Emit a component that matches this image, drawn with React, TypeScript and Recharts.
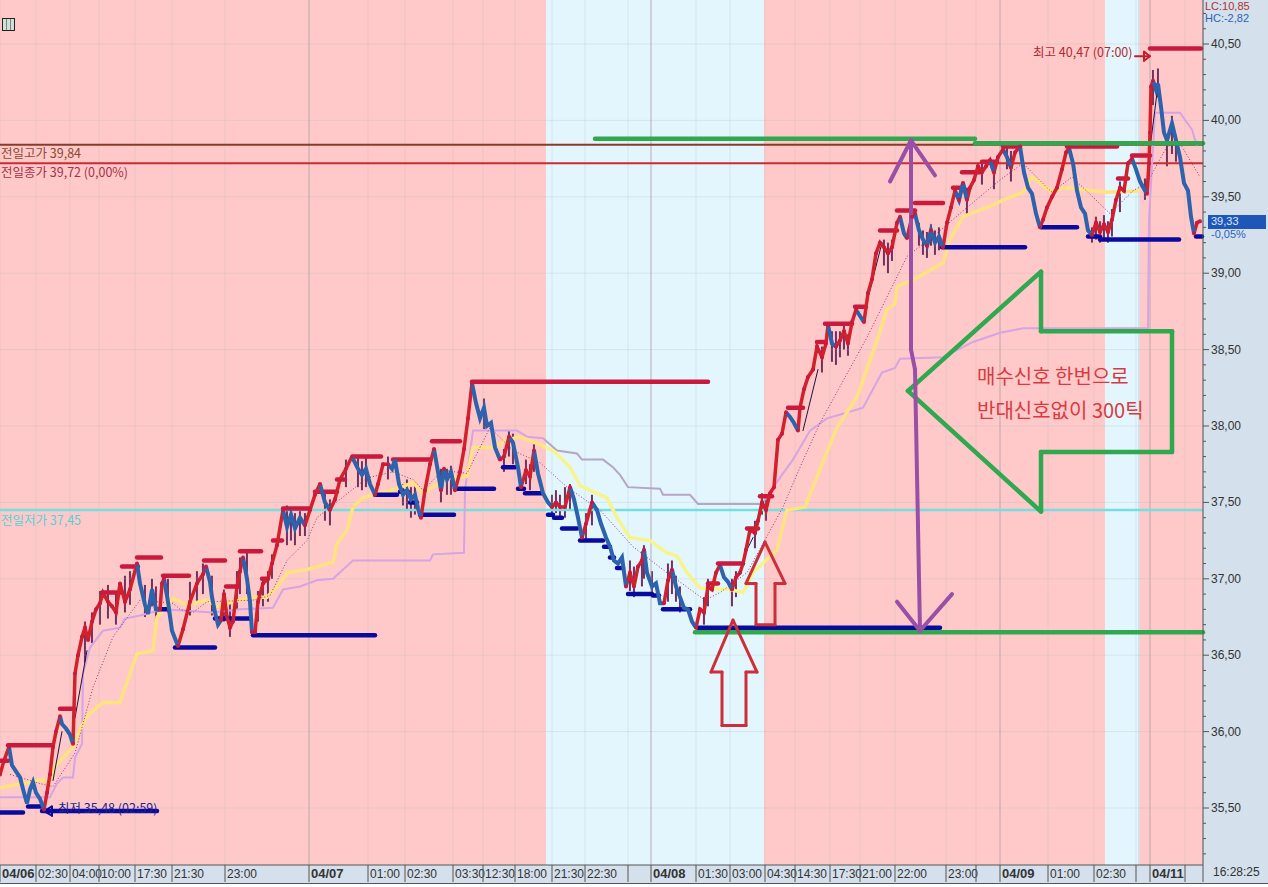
import {
  ComposedChart,
  Line,
  Bar,
  XAxis,
  YAxis,
  ReferenceArea,
  ReferenceLine,
} from 'recharts'

const KR_FONT = '"Noto Sans CJK KR", "Liberation Sans", sans-serif'
const NUM_FONT = '"Liberation Sans", "Noto Sans CJK KR", sans-serif'

const barX = [
  0, 4, 9, 12, 16, 20, 24, 27, 30, 33,
  36, 40, 44, 47, 50, 53, 56, 60, 62, 66,
  70, 73, 75, 78, 82, 85, 88, 92, 96, 100,
  103, 108, 112, 116, 120, 125, 130, 137, 140, 145,
  148, 152, 156, 160, 162, 164, 168, 172, 178, 183,
  190, 197, 203, 206, 210, 212, 215, 218, 221, 224,
  227, 230, 233, 237, 240, 243, 247, 250, 252, 255,
  258, 263, 268, 272, 277, 283, 287, 291, 295, 300,
  305, 310, 315, 320, 325, 330, 335, 340, 346, 352,
  358, 362, 366, 370, 375, 378, 383, 388, 392, 395,
  399, 403, 407, 411, 415, 418, 421, 425, 430, 434,
  438, 441, 444, 447, 451, 455, 460, 464, 468, 472,
  476, 480, 484, 487, 491, 495, 500, 504, 509, 513,
  518, 521, 526, 530, 534, 538, 543, 548, 552, 556,
  560, 565, 570, 574, 578, 582, 586, 592, 597, 601,
  606, 610, 614, 618, 622, 626, 630, 634, 638, 642,
  644, 647, 652, 656, 660, 664, 668, 672, 676, 680,
  684, 688, 692, 696, 700, 704, 708, 712, 716, 720,
  724, 728, 732, 736, 740, 743, 746, 750, 755, 758,
  762, 766, 770, 774, 778, 782, 786, 790, 794, 798,
  800, 804, 808, 813, 817, 822, 826, 828, 832, 836,
  840, 844, 848, 852, 856, 860, 864, 868, 872, 876,
  880, 884, 888, 892, 897, 900, 904, 907, 912, 915,
  919, 923, 927, 931, 935, 939, 943, 947, 951, 955,
  959, 963, 967, 970, 974, 978, 982, 986, 990, 994,
  998, 1003, 1007, 1011, 1015, 1020, 1024, 1028, 1032, 1036,
  1040, 1043, 1047, 1052, 1057, 1062, 1066, 1069, 1073, 1077,
  1081, 1085, 1088, 1092, 1096, 1100, 1104, 1108, 1112, 1116,
  1120, 1124, 1128, 1132, 1136, 1140, 1145, 1147, 1149, 1150,
  1151, 1153, 1156, 1158, 1161, 1164, 1167, 1172, 1176, 1180,
  1184, 1188, 1191, 1194, 1197, 1200,
]

const closes = [
  35.72, 35.81, 35.9, 35.78, 35.74, 35.7, 35.6, 35.53, 35.62, 35.67,
  35.6, 35.56, 35.49, 35.6, 35.72, 35.9, 36.0, 36.1, 36.05, 36.02,
  35.98, 35.92, 36.38, 36.5, 36.62, 36.68, 36.6, 36.72, 36.8, 36.84,
  36.91, 36.85, 36.82, 36.78, 36.97, 36.85, 36.93, 37.1, 36.97, 36.83,
  36.77, 36.93, 36.8, 36.8, 36.97, 37.0, 36.85, 36.66, 36.56, 36.67,
  36.85, 36.97, 37.03, 37.08, 36.98, 36.88, 36.78, 36.7, 36.73, 36.9,
  36.75, 36.68, 36.72, 36.95, 37.05, 37.14, 37.0, 36.85, 36.65, 36.65,
  36.85, 36.97, 37.0, 37.1, 37.22, 37.45, 37.34, 37.42, 37.33, 37.4,
  37.35, 37.45, 37.55, 37.62, 37.5, 37.45, 37.52, 37.65, 37.72, 37.8,
  37.72, 37.68, 37.72, 37.62, 37.55, 37.62, 37.75, 37.75, 37.72, 37.78,
  37.62, 37.55, 37.58, 37.52, 37.55, 37.46, 37.4, 37.58, 37.75, 37.85,
  37.7, 37.58, 37.72, 37.65, 37.7, 37.58, 37.7, 37.85, 38.05, 38.28,
  38.15, 38.05, 38.12, 38.0, 38.02, 37.86, 37.78, 37.8, 37.93, 37.89,
  37.73, 37.6, 37.71, 37.67, 37.84, 37.69, 37.56, 37.5, 37.47, 37.5,
  37.47, 37.47, 37.6, 37.52, 37.4, 37.27, 37.36, 37.5, 37.45, 37.36,
  37.27, 37.21, 37.12, 37.1, 37.14, 36.95, 37.04, 36.95, 37.08, 37.12,
  37.19, 37.04, 36.95, 36.97, 36.84, 36.84, 36.99, 37.06, 36.95, 36.88,
  36.81, 36.8, 36.72, 36.68, 36.8, 36.78, 36.95, 36.93, 37.04, 37.09,
  37.01, 36.98, 36.93, 37.01, 37.04, 37.1, 37.19, 37.32, 37.3, 37.38,
  37.5, 37.45, 37.56, 37.6, 37.91, 37.95, 38.09, 38.06, 38.02, 37.97,
  38.12, 38.24, 38.32, 38.37, 38.52, 38.45, 38.54, 38.66, 38.54, 38.52,
  38.56, 38.62, 38.54, 38.68, 38.76, 38.72, 38.68, 38.87, 38.96, 39.13,
  39.2, 39.17, 39.13, 39.17, 39.33, 39.37, 39.26, 39.23, 39.37, 39.39,
  39.28, 39.22, 39.18, 39.28, 39.2, 39.24, 39.17, 39.33, 39.43, 39.54,
  39.48, 39.59, 39.48, 39.56, 39.61, 39.7, 39.66, 39.7, 39.74, 39.66,
  39.76, 39.81, 39.76, 39.69, 39.79, 39.83, 39.66, 39.56, 39.52, 39.39,
  39.3, 39.35, 39.43, 39.5, 39.56, 39.68, 39.79, 39.82, 39.72, 39.54,
  39.43, 39.39, 39.28, 39.25, 39.33, 39.27, 39.32, 39.27, 39.35, 39.48,
  39.56, 39.54, 39.72, 39.75, 39.68, 39.6, 39.54, 39.52, 39.72, 39.92,
  40.22, 40.26, 40.2, 40.24, 40.09, 39.92, 39.87, 39.98, 39.87, 39.76,
  39.59, 39.54, 39.37, 39.26, 39.33, 39.34,
]

// bars where the colour flips, first leg is rising
const legBreaks = [
  0, 9, 44, 60, 73, 137, 160, 164, 178, 206, 221, 243, 252, 283, 305, 320, 330, 352, 375, 388,
  421, 434, 441, 444, 455, 472, 500, 509, 521, 534, 552, 570, 582, 592, 626, 644, 664, 672, 696,
  720, 732, 786, 798, 828, 836, 856, 864, 900, 907, 915, 927, 931, 943, 955, 959, 963, 967, 990,
  994, 1003, 1011, 1020, 1040, 1069, 1092, 1132, 1147, 1153, 1194, 1200,
]

const wickX = [
  85, 92, 100, 108, 116, 125, 130, 145, 152, 156, 168, 190, 197, 203, 212, 224, 230, 237, 240, 247,
  258, 263, 268, 272, 287, 291, 295, 300, 305, 325, 330, 346, 358, 362, 366, 388, 403, 407, 411, 415,
  441, 447, 451, 484, 504, 509, 513, 526, 530, 534, 552, 556, 560, 565, 570, 586, 592, 630, 634, 642,
  644, 652, 668, 672, 676, 680, 704, 708, 732, 736, 755, 762, 766, 822, 832, 836, 840, 844, 848, 884,
  888, 892, 919, 923, 927, 931, 935, 939, 967, 982, 994, 1007, 1011, 1092, 1096, 1100, 1104, 1108, 1112, 1120,
  1145, 1153, 1158, 1167, 1172, 1176,
]
const wickLow = [
  36.45, 36.58, 36.7, 36.74, 36.7, 36.78, 36.83, 36.75, 36.82, 36.72, 36.78, 36.76, 36.85, 36.9, 36.76, 36.72, 36.62, 36.8, 36.9, 36.9,
  36.72, 36.82, 36.85, 37.0, 37.22, 37.25, 37.22, 37.28, 37.28, 37.38, 37.35, 37.6, 37.6, 37.58, 37.6, 37.65, 37.48, 37.45, 37.4, 37.42,
  37.5, 37.55, 37.55, 37.98, 37.7, 37.8, 37.75, 37.62, 37.58, 37.7, 37.42, 37.43, 37.4, 37.4, 37.45, 37.25, 37.35, 36.92, 36.88, 36.95,
  37.0, 36.88, 36.85, 36.9, 36.85, 36.78, 36.7, 36.82, 36.82, 36.88, 37.2, 37.42, 37.38, 38.35, 38.42, 38.4, 38.45, 38.5, 38.46, 39.05,
  39.0, 39.08, 39.18, 39.12, 39.1, 39.18, 39.12, 39.15, 39.38, 39.58, 39.55, 39.68, 39.6, 39.2, 39.22, 39.2, 39.22, 39.2, 39.24, 39.4,
  39.48, 40.1, 40.15, 39.7, 39.78, 39.73,
]
const wickHigh = [
  36.72, 36.78, 36.92, 36.96, 36.92, 37.02, 37.05, 36.96, 37.0, 36.95, 37.0, 36.98, 37.05, 37.1, 37.02, 36.93, 36.85, 37.05, 37.14, 37.17,
  36.92, 37.0, 37.05, 37.16, 37.48, 37.47, 37.43, 37.45, 37.43, 37.58, 37.52, 37.78, 37.8, 37.77, 37.8, 37.8, 37.62, 37.65, 37.6, 37.62,
  37.72, 37.72, 37.74, 38.18, 37.85, 37.97, 37.95, 37.78, 37.75, 37.88, 37.55, 37.58, 37.55, 37.6, 37.62, 37.43, 37.55, 37.12, 37.08, 37.18,
  37.22, 37.05, 37.1, 37.12, 37.02, 36.95, 36.88, 37.0, 37.0, 37.05, 37.38, 37.56, 37.52, 38.52, 38.62, 38.62, 38.62, 38.68, 38.6, 39.22,
  39.2, 39.22, 39.33, 39.28, 39.27, 39.32, 39.28, 39.3, 39.56, 39.72, 39.72, 39.82, 39.8, 39.3, 39.37, 39.34, 39.38, 39.34, 39.42, 39.6,
  39.62, 40.33, 40.34, 39.9, 40.03, 39.9,
]

const maX = [
  10, 40, 53, 75, 93, 113, 140, 173, 180, 193, 207, 253, 270, 287, 307, 317, 367, 393, 413, 423, 443, 467,
  490, 513, 540, 567, 600, 633, 667, 705, 720, 747, 783, 800, 820, 867, 907, 933, 967, 1000, 1023, 1047,
  1052, 1072, 1110, 1133, 1147, 1167, 1180, 1200,
]
const maValues = [
  35.72, 35.66, 35.64, 35.86, 36.29, 36.62, 36.86, 36.84, 36.8, 36.78, 36.85, 36.86, 36.89, 37.12, 37.25, 37.4, 37.66, 37.7, 37.65, 37.58, 37.71, 37.69,
  37.99, 37.84, 37.76, 37.6, 37.45, 37.21, 37.04, 36.86, 36.91, 37.04, 37.47, 37.73, 38.02, 38.58, 39.11, 39.24, 39.43, 39.61, 39.72, 39.56,
  39.53, 39.63, 39.39, 39.54, 39.59, 39.83, 39.85, 39.63,
]

const yellowX = [
  0, 37, 50, 55, 73, 80, 88, 103, 120, 130, 137, 153, 157, 173, 187, 207, 217, 250, 267, 280, 287, 307, 333, 337,
  347, 353, 363, 373, 397, 413, 423, 447, 467, 473, 492, 507, 520, 540, 555, 570, 580, 607, 617, 630, 650, 667,
  677, 687, 700, 730, 743, 753, 777, 787, 805, 822, 837, 857, 877, 887, 895, 897, 917, 930, 943, 950, 963, 987,
  1000, 1023, 1032, 1050, 1067, 1093, 1107, 1140,
]
const yellowValues = [
  35.63, 35.68, 35.68, 35.77, 35.9, 36.01, 36.11, 36.19, 36.19, 36.38, 36.51, 36.53, 36.75, 36.87, 36.83, 36.86, 36.82, 36.88, 36.88, 36.97, 37.04, 37.06, 37.11, 37.23,
  37.32, 37.47, 37.53, 37.55, 37.59, 37.63, 37.56, 37.66, 37.67, 37.86, 37.86, 37.91, 37.93, 37.88, 37.83, 37.73, 37.61, 37.53, 37.4, 37.27, 37.25, 37.17,
  37.15, 37.04, 36.94, 36.93, 36.91, 37.04, 37.19, 37.45, 37.47, 37.75, 37.99, 38.19, 38.56, 38.76, 38.8, 38.91, 38.97, 39.02, 39.07, 39.22, 39.37, 39.43,
  39.47, 39.53, 39.63, 39.54, 39.56, 39.54, 39.53, 39.54,
]

const lavenderX = [
  0, 50, 57, 63, 73, 75, 82, 83, 90, 103, 120, 125, 140, 163, 213, 240, 273, 283, 300, 317, 333, 353, 430, 433,
  464, 465, 473, 517, 527, 543, 557, 577, 582, 603, 613, 620, 628, 660, 663, 690, 698, 762, 783, 793, 810, 827,
  843, 863, 873, 882, 895, 900, 943, 973, 1000, 1023, 1148, 1149, 1155, 1180, 1192, 1197,
]
const lavenderValues = [
  35.57, 35.57, 35.66, 35.7, 35.7, 35.83, 35.92, 36.38, 36.55, 36.66, 36.68, 36.74, 36.76, 36.8, 36.78, 36.8, 36.81, 36.93, 36.95, 36.99, 37.0, 37.12, 37.12, 37.16,
  37.17, 37.58, 37.97, 37.97, 37.93, 37.92, 37.84, 37.82, 37.78, 37.78, 37.73, 37.68, 37.6, 37.59, 37.55, 37.55, 37.49, 37.49, 37.69, 37.78, 37.97, 38.05,
  38.08, 38.12, 38.24, 38.35, 38.38, 38.44, 38.45, 38.55, 38.61, 38.64, 38.64, 39.35, 40.05, 40.05, 39.94, 39.83,
]

// from bar, to bar, price
const swingHighs = [
  [0, 8, 35.81], [8, 52, 35.91], [60, 74, 36.15], [102, 122, 36.91], [122, 138, 37.08], [137, 161, 37.14],
  [163, 189, 37.02], [204, 225, 37.12], [226, 238, 36.95], [240, 261, 37.18], [262, 268, 37.0], [273, 282, 37.25],
  [283, 310, 37.46], [315, 337, 37.57], [337, 345, 37.65], [353, 381, 37.8], [393, 430, 37.78], [432, 460, 37.9],
  [472, 708, 38.29], [708, 718, 36.97], [718, 743, 37.1], [747, 758, 37.33], [760, 772, 37.54], [788, 803, 38.12],
  [817, 825, 38.55], [825, 852, 38.67], [855, 866, 38.78], [880, 897, 39.28], [897, 915, 39.41], [915, 943, 39.46],
  [953, 962, 39.56], [962, 980, 39.66], [982, 997, 39.73], [1003, 1020, 39.83], [1067, 1117, 39.83], [1118, 1128, 39.62],
  [1132, 1150, 39.77], [1150, 1201, 40.47],
]
const swingLows = [
  [0, 23, 35.47], [28, 42, 35.51], [42, 157, 35.48], [157, 167, 36.8], [175, 215, 36.55], [215, 228, 36.74],
  [230, 250, 36.74], [253, 375, 36.63], [375, 397, 37.55], [400, 408, 37.57], [410, 417, 37.5], [420, 454, 37.42],
  [455, 494, 37.59], [503, 515, 37.73], [518, 524, 37.59], [525, 542, 37.56], [548, 553, 37.42], [554, 562, 37.4],
  [562, 577, 37.33], [580, 603, 37.25], [604, 610, 37.21], [610, 614, 37.14], [617, 623, 37.07], [628, 652, 36.9],
  [653, 659, 36.89], [663, 690, 36.8], [698, 940, 36.68], [942, 1025, 39.17], [1041, 1077, 39.3], [1088, 1100, 39.24],
  [1100, 1179, 39.22], [1196, 1202, 39.24],
]

// thin dark line that runs beside the steep rallies
const edgeStrokes = [
  [[53, 35.68], [62, 36.0]],
  [[75, 36.09], [87, 36.53]],
  [[747, 37.19], [753, 37.27]],
  [[803, 37.97], [818, 38.37]],
  [[868, 38.84], [882, 39.2]],
  [[1151, 39.87], [1157, 40.18]],
]

// hand drawn marks over the chart: runs of [bar, price]
const greenStrokes = [
  [[595, 39.88], [975, 39.88]],
  [[975, 39.85], [1203, 39.85]],
  [[695, 36.65], [1203, 36.65]],
  [[908, 38.23], [1041, 39.01], [1041, 38.62], [1172, 38.62], [1172, 37.83], [1041, 37.83], [1041, 37.44], [908, 38.23]],
]
const redStrokes = [
  [[733, 36.73], [711, 36.39], [722, 36.39], [722, 36.04], [746, 36.04], [746, 36.39], [757, 36.39], [733, 36.73]],
  [[765, 37.24], [746, 36.97], [756, 36.97], [756, 36.7], [775, 36.7], [775, 36.97], [785, 36.97], [765, 37.24]],
]
const purpleStrokes = [
  [[911, 39.87], [911, 38.5], [915, 38.37], [920, 36.66]],
  [[890, 39.6], [911, 39.87], [935, 39.64]],
  [[897, 36.85], [920, 36.66], [952, 36.9]],
]
const highPointer = [[[1135, 40.42], [1149, 40.42]], [[1144, 40.45], [1150, 40.42], [1144, 40.39], [1144, 40.45]]]
const lowPointer = [[[44, 35.48], [52, 35.51], [52, 35.45], [44, 35.48]]]

const pinkRanges = [[0, 546], [764, 1105], [1140, 1203]]
const blueRanges = [[546, 764], [1105, 1138]]

const yTicks = [
  35.2, 35.3, 35.4, 35.5, 35.6, 35.7, 35.8, 35.9, 36.0, 36.1, 36.2, 36.3, 36.4, 36.5, 36.6, 36.7, 36.8, 36.9,
  37.0, 37.1, 37.2, 37.3, 37.4, 37.5, 37.6, 37.7, 37.8, 37.9, 38.0, 38.1, 38.2, 38.3, 38.4, 38.5, 38.6, 38.7, 38.8, 38.9,
  39.0, 39.1, 39.2, 39.3, 39.4, 39.5, 39.6, 39.7, 39.8, 39.9, 40.0, 40.1, 40.2, 40.3, 40.4, 40.5, 40.6, 40.7,
]
const gridPrices = [35.5, 36.0, 36.5, 37.0, 37.5, 38.0, 38.5, 39.0, 39.5, 40.0, 40.5]

const xTickBars = [
  0, 36, 70, 99, 135, 172, 225, 309, 368, 405, 453, 483, 515, 552, 585, 628, 651, 696, 730, 765, 795, 830, 860, 895,
  946, 976, 1000, 1048, 1094, 1136, 1150, 1185, 1203,
]
const xTickLabels = [
  '04/06', '02:30', '04:00', '10:00', '17:30', '21:30', '23:00', '04/07', '01:00', '02:30', '03:30', '12:30', '18:00',
  '21:30', '22:30', '', '04/08', '01:30', '03:00', '04:30', '14:30', '17:30', '21:00', '22:00', '23:00', '', '04/09',
  '01:00', '02:30', '', '04/11', '', '',
]
const dayBars = [309, 651, 1000, 1150]

function legRows() {
  let leg = 0
  return barX.map((x, i) => {
    while (leg < legBreaks.length - 2 && x >= legBreaks[leg + 1]) leg++
    const rising = leg % 2 === 0
    const atBreak = legBreaks.includes(x) && i > 0
    const w = wickX.indexOf(x)
    return {
      x,
      rise: rising || atBreak ? closes[i] : null,
      fall: !rising || atBreak ? closes[i] : null,
      wick: w >= 0 ? [wickLow[w], wickHigh[w]] : null,
    }
  })
}

const rows = legRows()
const maRows = maX.map((x, i) => ({ x, v: maValues[i] }))
const yellowRows = yellowX.map((x, i) => ({ x, v: yellowValues[i] }))
const lavenderRows = lavenderX.map((x, i) => ({ x, v: lavenderValues[i] }))

function XTick({ x, y, payload }: any) {
  const label = xTickLabels[xTickBars.indexOf(payload.value)]
  const isDay = label && label.startsWith('04/')
  return (
    <g>
      <line x1={x} x2={x} y1={y} y2={y + 17} stroke="#555" />
      <text
        x={x + 2}
        y={y + 13}
        fontFamily={NUM_FONT}
        fontSize={isDay ? 13 : 12}
        fontWeight={isDay ? 700 : 400}
        fill="#333"
      >
        {label}
      </text>
    </g>
  )
}

function YTick({ x, y, payload }: any) {
  const major = Math.round(payload.value * 100) % 50 === 0
  return (
    <g>
      <line x1={x} x2={x + (major ? 6 : 3)} y1={y} y2={y} stroke="#555" />
      {major && (
        <text x={x + 8} y={y + 4} fontFamily={NUM_FONT} fontSize={12} fill="#333">
          {payload.value.toFixed(2).replace('.', ',')}
        </text>
      )}
    </g>
  )
}

function WickShape({ x, y, width, height }: any) {
  if (!height) return null
  return <rect x={x + width / 2 - 1} y={y} width={2} height={height} fill="#6f3262" />
}

function Note({ left, top, color, size = 12.5, font = KR_FONT, children }: any) {
  return (
    <div
      style={{
        position: 'absolute',
        left,
        top,
        color,
        fontSize: size,
        lineHeight: 1.05,
        fontFamily: font,
        whiteSpace: 'nowrap',
      }}
    >
      {children}
    </div>
  )
}

function strokeSegments(strokes: number[][][]) {
  return strokes.flatMap((run) => run.slice(1).map((p, i) => [run[i], p]))
}

function drawStrokes(prefix: string, strokes: number[][][], stroke: string, strokeWidth: number) {
  return strokeSegments(strokes).map(([p, q], i) => (
    <ReferenceLine
      key={`${prefix}${i}`}
      segment={[{ x: p[0], y: p[1] }, { x: q[0], y: q[1] }]}
      stroke={stroke}
      strokeWidth={strokeWidth}
      strokeLinecap="round"
    />
  ))
}

export default function App() {
  return (
    <div style={{ position: 'absolute', left: 0, top: 0, width: 1268, height: 887, background: '#fff', overflow: 'hidden' }}>
      <div style={{ width: 1268, height: 883, background: '#d4e0ec', borderBottom: '1px solid #555' }}>
        <ComposedChart
          width={1268}
          height={883}
          data={rows}
          margin={{ top: 0, right: 0, bottom: 0, left: 0 }}
          accessibilityLayer={false}
        >
          <defs>
            <linearGradient id="yellowFade" gradientUnits="userSpaceOnUse" x1="0" x2="1203" y1="0" y2="0">
              <stop offset="0.45" stopColor="#ffe380" />
              <stop offset="0.455" stopColor="#f7f48c" />
              <stop offset="0.635" stopColor="#f7f48c" />
              <stop offset="0.64" stopColor="#ffe380" />
            </linearGradient>
            <linearGradient id="lavenderFade" gradientUnits="userSpaceOnUse" x1="0" x2="1203" y1="0" y2="0">
              <stop offset="0.45" stopColor="#d4a4e4" />
              <stop offset="0.455" stopColor="#b6a6c6" />
              <stop offset="0.635" stopColor="#b6a6c6" />
              <stop offset="0.64" stopColor="#d4a4e4" />
            </linearGradient>
          </defs>
          <XAxis
            dataKey="x"
            type="number"
            domain={[0, 1203]}
            ticks={xTickBars}
            interval={0}
            height={18}
            tickSize={0}
            tickMargin={0}
            tickLine={false}
            tick={<XTick />}
            axisLine={{ stroke: '#555' }}
          />
          <YAxis
            orientation="right"
            domain={[35.127, 40.788]}
            ticks={yTicks}
            interval={0}
            width={65}
            tickSize={0}
            tickMargin={0}
            tickLine={false}
            tick={<YTick />}
            axisLine={{ stroke: '#555' }}
          />
          {pinkRanges.map(([a, b]) => (
            <ReferenceArea key={a} x1={a} x2={b} y1={35.127} y2={40.788} fill="#ffc9c9" fillOpacity={1} stroke="none" />
          ))}
          {blueRanges.map(([a, b]) => (
            <ReferenceArea key={a} x1={a} x2={b} y1={35.127} y2={40.788} fill="#e3f6fe" fillOpacity={1} stroke="none" />
          ))}
          {xTickBars.map((b) => (
            <ReferenceLine key={`gx${b}`} x={b} stroke="#a8b8bc" strokeOpacity={0.25} />
          ))}
          {gridPrices.map((p) => (
            <ReferenceLine key={`gy${p}`} y={p} stroke="#a8b8bc" strokeOpacity={0.25} />
          ))}
          {dayBars.map((b) => (
            <ReferenceLine key={`day${b}`} x={b} stroke="#b0a0a4" strokeOpacity={0.7} />
          ))}
          <ReferenceLine y={37.45} stroke="#74dfe2" strokeWidth={2.5} />
          <ReferenceLine y={39.84} stroke="#8a3a28" strokeWidth={2} />
          <ReferenceLine y={39.72} stroke="#cc2a30" strokeWidth={2} />
          <Line data={lavenderRows} dataKey="v" stroke="url(#lavenderFade)" strokeWidth={2} dot={false} activeDot={false} isAnimationActive={false} />
          <Line data={yellowRows} dataKey="v" stroke="url(#yellowFade)" strokeWidth={3.5} dot={false} activeDot={false} isAnimationActive={false} />
          <Line data={maRows} dataKey="v" stroke="#a0307c" strokeWidth={1} strokeDasharray="1 2" dot={false} activeDot={false} isAnimationActive={false} />
          {drawStrokes('e', edgeStrokes, '#1a1440', 1)}
          {swingHighs.map(([a, b, p]) => (
            <ReferenceLine key={`h${a}`} segment={[{ x: a, y: p }, { x: b, y: p }]} stroke="#c9193c" strokeWidth={4.5} strokeLinecap="round" />
          ))}
          {swingLows.map(([a, b, p]) => (
            <ReferenceLine key={`l${a}`} segment={[{ x: a, y: p }, { x: b, y: p }]} stroke="#0a0a9e" strokeWidth={4.5} strokeLinecap="round" />
          ))}
          <Line
            dataKey="rise"
            stroke="#d2202c"
            strokeWidth={3.5}
            dot={{ r: 2, fill: '#c9193c', stroke: 'none' }}
            activeDot={false}
            connectNulls={false}
            isAnimationActive={false}
          />
          <Line dataKey="fall" stroke="#2d62ad" strokeWidth={4} dot={false} activeDot={false} connectNulls={false} isAnimationActive={false} />
          <Bar dataKey="wick" barSize={2} shape={<WickShape />} isAnimationActive={false} />
          {drawStrokes('g', greenStrokes, '#2fa84f', 4.5)}
          {drawStrokes('r', redStrokes, '#cc2f38', 3)}
          {drawStrokes('p', purpleStrokes, '#9a4fa6', 4)}
          {drawStrokes('hp', highPointer, '#c01f2c', 2)}
          {drawStrokes('lp', lowPointer, '#0a0a9e', 2)}
        </ComposedChart>
      </div>

      <div
        style={{
          position: 'absolute',
          left: 2,
          top: 18,
          width: 11,
          height: 11,
          border: '1px solid #222',
          background: 'repeating-linear-gradient(90deg, #cfe0d8 0 3px, #7a8a80 3px 4px)',
        }}
      />

      <Note left={1} top={146} color="#8a4a30">전일고가 39,84</Note>
      <Note left={1} top={165} color="#a83048">전일종가 39,72 (0,00%)</Note>
      <Note left={1} top={513} color="#55d2d6">전일저가 37,45</Note>
      <Note left={1033} top={45} color="#b02a30">최고 40,47 (07:00)</Note>
      <Note left={58} top={801} color="#23238a">최저 35,48 (02:59)</Note>
      <Note left={977} top={365} color="#d83a40" size={20}>매수신호 한번으로</Note>
      <Note left={977} top={399} color="#d83a40" size={20}>반대신호없이 300틱</Note>

      <Note left={1205} top={1} color="#b03030" size={11} font={NUM_FONT}>LC:10,85</Note>
      <Note left={1205} top={13} color="#2a62b8" size={11} font={NUM_FONT}>HC:-2,82</Note>
      <div style={{ position: 'absolute', left: 1208, top: 215, width: 58, height: 14, background: '#1f57b8' }} />
      <Note left={1211} top={216} color="#dfe8ff" size={11} font={NUM_FONT}>39,33</Note>
      <Note left={1211} top={229} color="#2a62b8" size={11} font={NUM_FONT}>-0,05%</Note>
      <Note left={1213} top={866} color="#333" size={12} font={NUM_FONT}>16:28:25</Note>
    </div>
  )
}
